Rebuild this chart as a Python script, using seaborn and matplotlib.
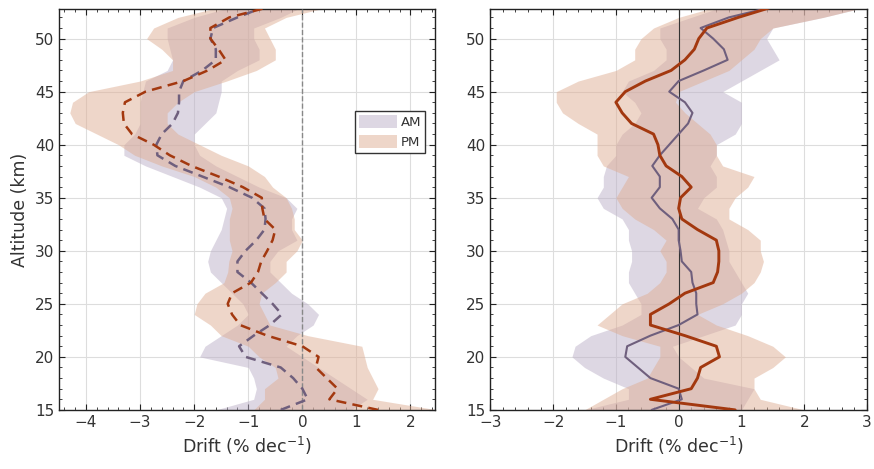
import matplotlib
matplotlib.use('Agg')
import matplotlib.pyplot as plt
import seaborn as sns
import pandas as pd
from matplotlib.patches import Patch
from matplotlib.ticker import MultipleLocator

# altitude grid (km)
alt = list(range(15, 54))

# left panel: drift profiles (% per decade), dashed lines
am_left = [-0.4, 0.1, 0.0, -0.17, -0.4, -1.05, -1.17, -0.9, -0.6, -0.38,
           -0.55, -0.75, -0.95, -1.2, -1.2, -1.05, -0.85, -0.7, -0.68, -0.7,
           -0.93, -1.35, -1.85, -2.35, -2.68, -2.7, -2.6, -2.4, -2.3, -2.28,
           -2.28, -2.2, -1.85, -1.6, -1.6, -1.7, -1.65, -1.2, -0.7]
am_left_lo = [-1.6, -0.9, -0.85, -0.9, -1.0, -1.9, -1.8, -1.5, -1.2, -1.0,
              -1.1, -1.3, -1.5, -1.7, -1.75, -1.7, -1.6, -1.5, -1.45, -1.4,
              -1.5, -1.9, -2.4, -2.9, -3.3, -3.3, -3.1, -3.0, -3.0, -3.0,
              -2.95, -2.9, -2.5, -2.4, -2.45, -2.5, -2.5, -2.0, -1.3]
am_left_hi = [0.9, 1.2, 0.9, 0.6, 0.3, 0.0, -0.3, -0.1, 0.2, 0.3,
              0.1, -0.2, -0.4, -0.6, -0.6, -0.45, -0.1, -0.2, -0.2, -0.1,
              -0.3, -0.8, -1.2, -1.6, -1.9, -2.0, -2.0, -1.8, -1.6, -1.55,
              -1.5, -1.5, -1.2, -0.8, -0.8, -0.9, -0.9, -0.4, 0.0]
pm_left = [1.4, 0.5, 0.65, 0.45, 0.25, 0.3, 0.0, -0.65, -1.15, -1.3,
           -1.38, -1.3, -0.95, -0.82, -0.76, -0.65, -0.55, -0.5, -0.7, -0.74,
           -0.75, -1.1, -1.55, -2.05, -2.45, -2.75, -3.15, -3.3, -3.32, -3.28,
           -2.9, -2.2, -1.75, -1.42, -1.55, -1.7, -1.7, -1.35, -0.6]
pm_left_lo = [-0.9, -0.7, -0.7, -0.45, -0.5, -0.8, -1.0, -1.5, -1.7, -2.0,
              -1.95, -1.8, -1.45, -1.38, -1.36, -1.3, -1.35, -1.35, -1.35, -1.3,
              -1.35, -1.6, -2.0, -2.6, -3.1, -3.4, -3.8, -4.2, -4.3, -4.25,
              -3.95, -3.0, -2.4, -2.4, -2.6, -2.88, -2.75, -2.3, -1.5]
pm_left_hi = [2.5, 1.3, 1.4, 1.3, 1.2, 1.15, 1.1, 0.1, -0.6, -0.7,
              -0.8, -0.75, -0.5, -0.3, -0.3, -0.1, 0.0, -0.15, -0.15, -0.2,
              -0.3, -0.55, -0.7, -1.0, -1.5, -1.9, -2.3, -2.5, -2.5, -2.3,
              -2.0, -1.4, -0.85, -0.5, -0.5, -0.6, -0.7, -0.3, 0.5]

# right panel: solid lines
am_right = [-0.43, 0.05, 0.0, -0.45, -0.65, -0.85, -0.82, -0.45, 0.0, 0.3,
            0.28, 0.28, 0.22, 0.2, 0.05, 0.03, 0.0, 0.0, -0.1, -0.3,
            -0.43, -0.3, -0.3, -0.42, -0.3, -0.15, 0.0, 0.15, 0.22, 0.1,
            -0.15, 0.0, 0.4, 0.78, 0.72, 0.55, 0.35, 0.8, 1.5]
am_right_lo = [-1.5, -0.8, -0.8, -1.2, -1.5, -1.7, -1.65, -1.4, -0.9, -0.6,
               -0.6, -0.7, -0.8, -0.8, -0.75, -0.75, -0.8, -0.8, -0.9, -1.2,
               -1.3, -1.2, -1.2, -1.15, -1.0, -1.0, -0.9, -0.7, -0.6, -0.7,
               -0.9, -0.8, -0.4, -0.2, -0.2, -0.3, -0.3, 0.2, 0.7]
am_right_hi = [1.0, 1.1, 1.2, 0.4, 0.2, 0.0, -0.1, 0.4, 0.9, 1.0,
               1.0, 1.1, 1.0, 0.9, 0.8, 0.8, 0.75, 0.7, 0.6, 0.3,
               0.4, 0.6, 0.6, 0.5, 0.6, 0.6, 0.9, 1.0, 1.0, 1.0,
               0.7, 1.0, 1.3, 1.6, 1.5, 1.4, 1.5, 2.3, 3.0]
pm_right = [0.9, -0.45, 0.2, 0.3, 0.35, 0.65, 0.6, 0.1, -0.45, -0.45,
            -0.15, 0.1, 0.55, 0.62, 0.64, 0.64, 0.6, 0.3, 0.05, 0.0,
            0.03, 0.2, 0.05, -0.2, -0.3, -0.33, -0.4, -0.75, -0.9, -1.0,
            -0.85, -0.53, -0.12, 0.1, 0.25, 0.32, 0.45, 0.95, 1.5]
pm_right_lo = [-1.5, -1.2, -0.9, -0.5, -0.4, -0.3, -0.3, -0.9, -1.3, -1.1,
               -0.9, -0.5, -0.3, -0.2, -0.2, -0.3, -0.2, -0.4, -0.7, -0.9,
               -1.0, -0.9, -0.8, -1.2, -1.3, -1.3, -1.3, -1.6, -1.85, -1.95,
               -1.95, -1.6, -1.0, -0.7, -0.7, -0.6, -0.4, 0.0, 0.6]
pm_right_hi = [2.0, 1.3, 1.2, 1.2, 1.5, 1.7, 1.5, 1.1, 0.6, 0.3,
               0.7, 1.0, 1.2, 1.3, 1.35, 1.3, 1.3, 1.1, 0.8, 0.8,
               0.9, 1.1, 1.2, 0.7, 0.6, 0.6, 0.5, 0.3, 0.1, -0.05,
               0.0, 0.4, 0.8, 1.0, 1.2, 1.3, 1.5, 2.3, 3.0]

am_line = '#6f5f7d'
pm_line = '#a3380f'
am_band = '#bcb0c8'
pm_band = '#dfae94'
txt = '#333333'

sns.set_style('ticks')
plt.rcParams['font.family'] = ['DejaVu Sans']
plt.rcParams['xtick.direction'] = 'in'
plt.rcParams['ytick.direction'] = 'in'

fig = plt.figure(figsize=(8.74, 4.69), dpi=100)
ax1 = fig.add_axes([0.0675, 0.126, 0.430, 0.855])
ax2 = fig.add_axes([0.561, 0.126, 0.431, 0.855])


def draw_panel(ax, am, am_lo, am_hi, pm, pm_lo, pm_hi, ls):
    ax.fill_betweenx(alt, am_lo, am_hi, color=am_band, alpha=0.5, lw=0, zorder=2)
    ax.fill_betweenx(alt, pm_lo, pm_hi, color=pm_band, alpha=0.5, lw=0, zorder=2)
    df = pd.DataFrame({'alt': alt * 2, 'drift': am + pm,
                       'set': ['AM'] * len(alt) + ['PM'] * len(alt)})
    sns.lineplot(data=df, x='drift', y='alt', hue='set', orient='y', sort=False,
                 palette={'AM': am_line, 'PM': pm_line}, ax=ax, legend=False,
                 lw=1.8, zorder=4)
    for l in ax.lines:
        l.set_linestyle(ls)
    ax.set_ylim(15, 52.8)
    ax.yaxis.set_major_locator(MultipleLocator(5))
    ax.yaxis.set_minor_locator(MultipleLocator(1))
    ax.xaxis.set_major_locator(MultipleLocator(1))
    ax.xaxis.set_minor_locator(MultipleLocator(0.2))
    ax.grid(True, which='major', color='#dddddd', lw=0.8, zorder=0)
    ax.tick_params(which='both', top=True, right=True, colors='#222222',
                   labelcolor=txt, labelsize=11)
    ax.tick_params(which='major', length=4)
    ax.tick_params(which='minor', length=2.5)
    for s in ax.spines.values():
        s.set_color('#222222')
        s.set_linewidth(1.0)
    ax.set_xlabel('Drift (% dec$^{-1}$)', fontsize=12.5, color=txt)


draw_panel(ax1, am_left, am_left_lo, am_left_hi,
           pm_left, pm_left_lo, pm_left_hi, (0, (4, 2.5)))
ax1.axvline(0, color='#888888', lw=1.0, ls='--', zorder=3)
ax1.set_xlim(-4.5, 2.45)
ax1.set_ylabel('Altitude (km)', fontsize=12.5, color=txt)

draw_panel(ax2, am_right, am_right_lo, am_right_hi,
           pm_right, pm_right_lo, pm_right_hi, '-')
ax2.lines[0].set_linewidth(1.5)
ax2.lines[1].set_linewidth(2.1)
ax2.axvline(0, color='#333333', lw=0.8, zorder=3)
ax2.set_xlim(-3, 3)
ax2.set_ylabel('')

handles = [Patch(facecolor=am_band, alpha=0.5, edgecolor='none', label='AM'),
           Patch(facecolor=pm_band, alpha=0.5, edgecolor='none', label='PM')]
leg = ax1.legend(handles=handles, loc='upper right', bbox_to_anchor=(0.975, 0.745),
                 fontsize=9.5, frameon=True, fancybox=False, framealpha=1,
                 edgecolor='#333333', handlelength=2.9, handleheight=1.1,
                 handletextpad=0.3, borderpad=0.3, labelspacing=0.45,
                 borderaxespad=0)
leg.get_frame().set_linewidth(1.0)
for t in leg.get_texts():
    t.set_color(txt)

fig.savefig('out.png', dpi=100)
